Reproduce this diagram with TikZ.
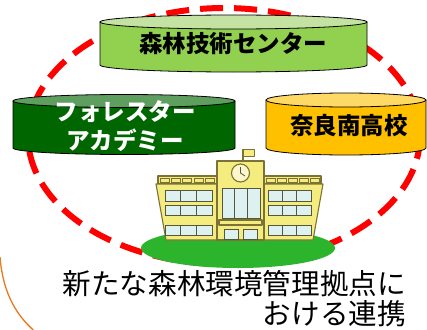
\documentclass[tikz,border=0pt]{standalone}
\usepackage{fontspec}
\setmainfont{Noto Sans CJK JP}
\definecolor{dashred}{HTML}{FF0000}
\definecolor{arcorange}{HTML}{E8791E}
\definecolor{leafgreen}{HTML}{92D050}
\definecolor{leaftop}{HTML}{C4E3A2}
\definecolor{forest}{HTML}{006600}
\definecolor{foresttop}{HTML}{5E9E5E}
\definecolor{gold}{HTML}{FFC000}
\definecolor{goldtop}{HTML}{FFD966}
\definecolor{lawn}{HTML}{2DB42D}
\definecolor{wall}{HTML}{F4EC7E}
\definecolor{wallline}{HTML}{7D7236}
\definecolor{glass}{HTML}{DDF2F0}
\definecolor{frame}{HTML}{56563C}
% a drum: centre x, top y, bottom y, x radius, y radius, body colour, lid colour
\newcommand\cylband[7]{%
  \fill[#6] ({#1-#4},#2) -- ({#1-#4},#3)
    arc[start angle=180,end angle=0,x radius=#4,y radius=#5] -- ({#1+#4},#2) -- cycle;
  \draw[tube] ({#1-#4},#2) -- ({#1-#4},#3)
    arc[start angle=180,end angle=0,x radius=#4,y radius=#5] -- ({#1+#4},#2);
  \filldraw[tube,fill=#7] (#1,#2) ellipse[x radius=#4,y radius=#5];
}
\begin{document}
\begin{tikzpicture}[x=1pt,y=-1pt,
  tube/.style={draw=black,line width=0.8pt},
  drumtext/.style={font=\fontsize{23.5}{29}\selectfont\bfseries,inner sep=0pt,align=center},
  captiontext/.style={font=\fontsize{28.6}{30}\selectfont,inner sep=0pt,align=right},
  ring/.style={draw=dashred,line width=6pt,dash pattern=on 23pt off 11pt},
  bldg/.style={draw=wallline,line width=1.1pt,fill=wall,line join=round},
  pane/.style={draw=frame,line width=0.9pt,fill=glass}]
\useasboundingbox (0,0) rectangle (427,329);

% outer orange arc, lower left
\draw[arcorange,line width=1.3pt] (0,257) .. controls (3,295) and (18,318) .. (38,334);

% dashed ring of cooperation
\draw[ring] (224,136) ellipse[x radius=196,y radius=128];

% three drums
\cylband{233.5}{22}{65}{133.5}{7}{leafgreen}{leaftop}
\node[drumtext] (ctr) at (233,44) {森林技術センター};

\cylband{124}{101}{148}{111}{6.5}{forest}{foresttop}
\node[drumtext,text=white] (acad) at (125,126) {フォレスター\\アカデミー};

\cylband{346}{100}{148}{80}{7}{gold}{goldtop}
\node[drumtext] (nanko) at (349,126) {奈良南高校};

% lawn
\fill[lawn] (238,248) ellipse[x radius=97,y radius=20];

% school building
\draw[wallline,line width=1.1pt] (243,161) -- (243,149);
\filldraw[bldg,line width=0.9pt] (243,149) rectangle (254,156);
% left wing
\filldraw[bldg] (158,176) rectangle (217,184);
\foreach \i in {0,...,4} \draw[wallline,line width=0.7pt] ({160+\i*11.3},178) rectangle ({169+\i*11.3},182);
\filldraw[bldg] (156,184) -- (217,184) -- (217,240) -- (166,240) -- cycle;
% right wing
\filldraw[bldg] (264,176) rectangle (321,184);
\foreach \i in {0,...,4} \draw[wallline,line width=0.7pt] ({266+\i*11},178) rectangle ({275+\i*11},182);
\filldraw[bldg] (264,184) -- (323,184) -- (313,240) -- (264,240) -- cycle;
% tower
\filldraw[bldg] (217,161) rectangle (264,240);
\filldraw[bldg,fill=white!60!wall] (240.5,173) circle[radius=9];
\draw[frame,line width=0.8pt] (240.5,167) -- (240.5,173) -- (245,176);
% wing windows
\foreach \y/\h in {190/11,205/10,225/10}{
  \filldraw[pane] (165,\y) rectangle (212,\y+\h);
  \draw[frame,line width=0.9pt] (180.5,\y) -- (180.5,\y+\h) (196.5,\y) -- (196.5,\y+\h);
  \filldraw[pane] (268,\y) rectangle (311,\y+\h);
  \draw[frame,line width=0.9pt] (282,\y) -- (282,\y+\h) (296.5,\y) -- (296.5,\y+\h);
}
% tower windows and entrance
\filldraw[pane] (222,188) rectangle (260,218);
\draw[frame,line width=0.9pt] (234.5,188) -- (234.5,218) (247.5,188) -- (247.5,218);
\filldraw[bldg] (219,220) rectangle (262,225);
\filldraw[pane] (224,229) rectangle (238,239);
\filldraw[pane] (243,229) rectangle (257,239);

% caption
\node[captiontext,anchor=east] (cap1) at (406,284) {新たな森林環境管理拠点に};
\node[captiontext,anchor=east] (cap2) at (406,314) {おける連携};
\end{tikzpicture}
\end{document}
